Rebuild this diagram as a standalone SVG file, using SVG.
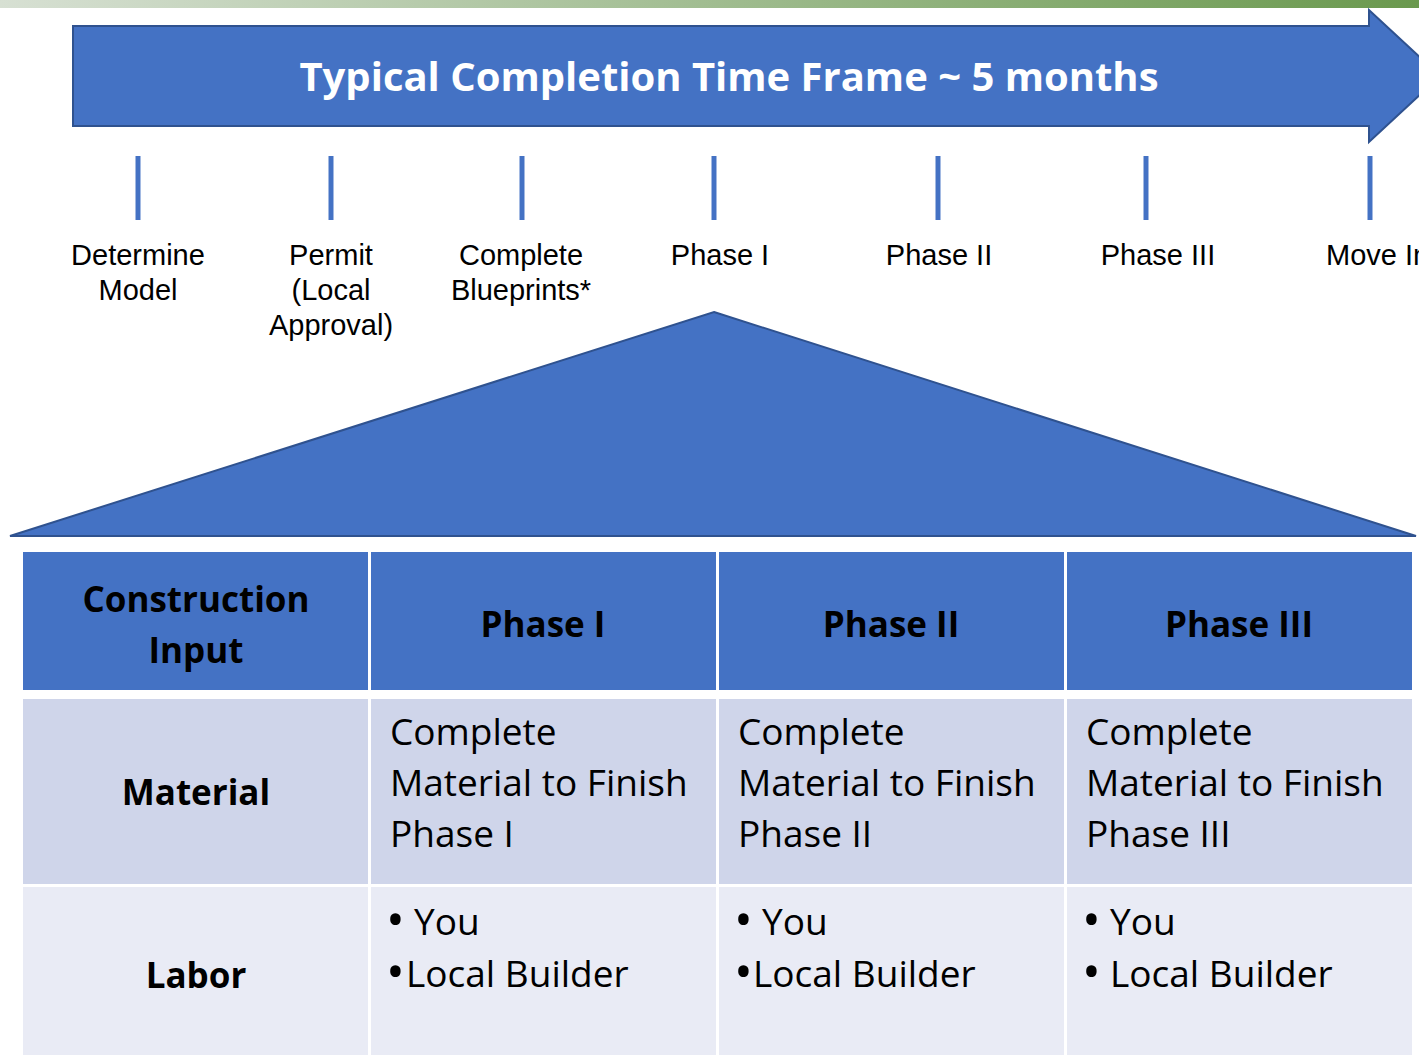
<svg xmlns="http://www.w3.org/2000/svg" width="1419" height="1055" viewBox="0 0 1419 1055">
<defs>
<linearGradient id="topbar" x1="0" y1="0" x2="1" y2="0">
<stop offset="0" stop-color="#d7e0d3"/>
<stop offset="1" stop-color="#6a994e"/>
</linearGradient>
</defs>
<style>
.blue{fill:#4472c4;stroke:#2f528f;stroke-width:2}
.tick{stroke:#4472c4;stroke-width:5}
.lbl{font-family:"Liberation Sans",Arial,sans-serif;font-size:29px;fill:#000;text-anchor:middle}
.lbls{font-family:"Liberation Sans",Arial,sans-serif;font-size:29px;fill:#000;text-anchor:start}
.hdr{font-family:"Open Sans",sans-serif;font-weight:bold;font-size:35px;fill:#000;text-anchor:middle}
.body{font-family:"Open Sans",sans-serif;font-size:37px;fill:#000}
.bul{font-size:50px}
.head{fill:#4472c4}
.r1{fill:#cfd5ea}
.r2{fill:#e9ebf5}
</style>
<rect x="0" y="0" width="1419" height="8" fill="url(#topbar)"/>
<g id="timeline-arrow">
<path class="blue" d="M73 26 H1369 V10 L1440 76 L1369 142 V126 H73 Z"/>
<text x="729" y="91" font-family="'Open Sans',sans-serif" font-weight="bold" font-size="40" fill="#fff" text-anchor="middle">Typical Completion Time Frame ~ 5 months</text>
</g>
<g id="ticks">
<line class="tick" x1="138" y1="156" x2="138" y2="220"/>
<line class="tick" x1="331" y1="156" x2="331" y2="220"/>
<line class="tick" x1="522" y1="156" x2="522" y2="220"/>
<line class="tick" x1="714" y1="156" x2="714" y2="220"/>
<line class="tick" x1="938" y1="156" x2="938" y2="220"/>
<line class="tick" x1="1146" y1="156" x2="1146" y2="220"/>
<line class="tick" x1="1370" y1="156" x2="1370" y2="220"/>
</g>
<g id="milestones">
<text class="lbl" x="138" y="265">Determine</text>
<text class="lbl" x="138" y="300">Model</text>
<text class="lbl" x="331" y="265">Permit</text>
<text class="lbl" x="331" y="300">(Local</text>
<text class="lbl" x="331" y="335">Approval)</text>
<text class="lbl" x="521" y="265">Complete</text>
<text class="lbl" x="521" y="300">Blueprints*</text>
<text class="lbl" x="720" y="265">Phase I</text>
<text class="lbl" x="939" y="265">Phase II</text>
<text class="lbl" x="1158" y="265">Phase III</text>
<text class="lbls" x="1326" y="265">Move In</text>
</g>
<g id="phase-expansion">
<path class="blue" d="M714 312 L1416 536 L10 536 Z"/>
</g>
<g id="table">
<rect class="head" x="23" y="552" width="345" height="138"/>
<rect class="head" x="371" y="552" width="345" height="138"/>
<rect class="head" x="719" y="552" width="345" height="138"/>
<rect class="head" x="1067" y="552" width="345" height="138"/>
<rect class="r1" x="23" y="699" width="345" height="185"/>
<rect class="r1" x="371" y="699" width="345" height="185"/>
<rect class="r1" x="719" y="699" width="345" height="185"/>
<rect class="r1" x="1067" y="699" width="345" height="185"/>
<rect class="r2" x="23" y="887" width="345" height="168"/>
<rect class="r2" x="371" y="887" width="345" height="168"/>
<rect class="r2" x="719" y="887" width="345" height="168"/>
<rect class="r2" x="1067" y="887" width="345" height="168"/>
<text class="hdr" x="196" y="612">Construction</text>
<text class="hdr" x="196" y="663">Input</text>
<text class="hdr" x="543" y="637">Phase I</text>
<text class="hdr" x="891" y="637">Phase II</text>
<text class="hdr" x="1239" y="637">Phase III</text>
<text class="hdr" x="196" y="805">Material</text>
<text class="hdr" x="196" y="988">Labor</text>
<text class="body" x="390" y="745">Complete</text>
<text class="body" x="390" y="796">Material to Finish</text>
<text class="body" x="390" y="847">Phase I</text>
<text class="body" x="738" y="745">Complete</text>
<text class="body" x="738" y="796">Material to Finish</text>
<text class="body" x="738" y="847">Phase II</text>
<text class="body" x="1086" y="745">Complete</text>
<text class="body" x="1086" y="796">Material to Finish</text>
<text class="body" x="1086" y="847">Phase III</text>
<text class="body" y="937"><tspan class="bul" x="386">•</tspan><tspan x="414" y="935">You</tspan></text>
<text class="body" y="989"><tspan class="bul" x="386">•</tspan><tspan x="406" y="987">Local Builder</tspan></text>
<text class="body" y="937"><tspan class="bul" x="734">•</tspan><tspan x="762" y="935">You</tspan></text>
<text class="body" y="989"><tspan class="bul" x="734">•</tspan><tspan x="753" y="987">Local Builder</tspan></text>
<text class="body" y="937"><tspan class="bul" x="1082">•</tspan><tspan x="1110" y="935">You</tspan></text>
<text class="body" y="989"><tspan class="bul" x="1082">•</tspan><tspan x="1110" y="987">Local Builder</tspan></text>
</g>
</svg>
